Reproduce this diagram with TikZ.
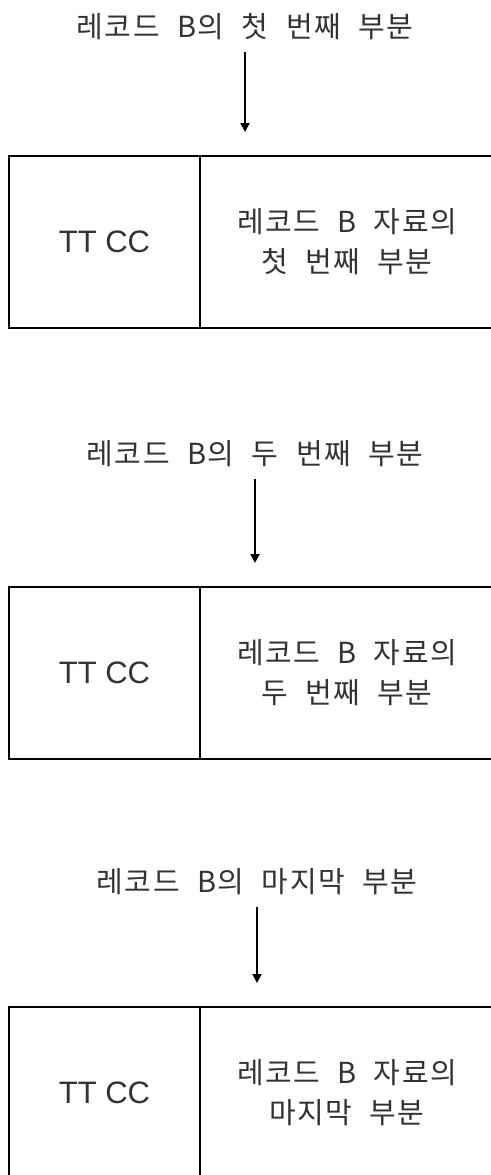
\documentclass[tikz,border=0pt]{standalone}
\usepackage{fontspec}
\setmainfont{Liberation Sans}
\newfontfamily\krfont[WordSpace=2.2,LetterSpace=5]{Noto Sans CJK KR}
\usetikzlibrary{positioning,arrows.meta}
\tikzset{
  partlbl/.style={font=\krfont\fontsize{29}{40}\selectfont, text=black!80, inner sep=0pt},
  cellbox/.style={draw, line width=2pt, outer sep=0pt, inner sep=0pt, minimum height=172pt,
    align=center, font=\krfont\fontsize{29}{40}\selectfont, text=black!80},
  ttcell/.style={cellbox, minimum width=191pt, font=\fontsize{31}{36}\selectfont},
  feed/.style={-{Triangle[width=9pt,length=9pt]}, line width=1.8pt, shorten <=12pt, shorten >=24pt}
}
\begin{document}
\begin{tikzpicture}[x=1pt,y=-1pt]
    \useasboundingbox (0,0) rectangle (490,1175);
      \node[partlbl] (l1) at (245,27) {레코드 B의 첫 번째 부분};
      \node[ttcell, anchor=north west] (t1) at (9,156) {TT CC};
      \node[cellbox, minimum width=294pt, right=0pt of t1] (d1) {레코드 B 자료의\\첫 번째 부분};
      \draw[feed] (l1) -- (l1 |- t1.north);
      \node[partlbl] (l2) at (255,454) {레코드 B의 두 번째 부분};
      \node[ttcell, anchor=north west] (t2) at (9,587) {TT CC};
      \node[cellbox, minimum width=294pt, right=0pt of t2] (d2) {레코드 B 자료의\\두 번째 부분};
      \draw[feed] (l2) -- (l2 |- t2.north);
      \node[partlbl] (l3) at (257,882) {레코드 B의 마지막 부분};
      \node[ttcell, anchor=north west] (t3) at (9,1007) {TT CC};
      \node[cellbox, minimum width=294pt, right=0pt of t3] (d3) {레코드 B 자료의\\마지막 부분};
      \draw[feed] (l3) -- (l3 |- t3.north);
    \end{tikzpicture}
\end{document}
